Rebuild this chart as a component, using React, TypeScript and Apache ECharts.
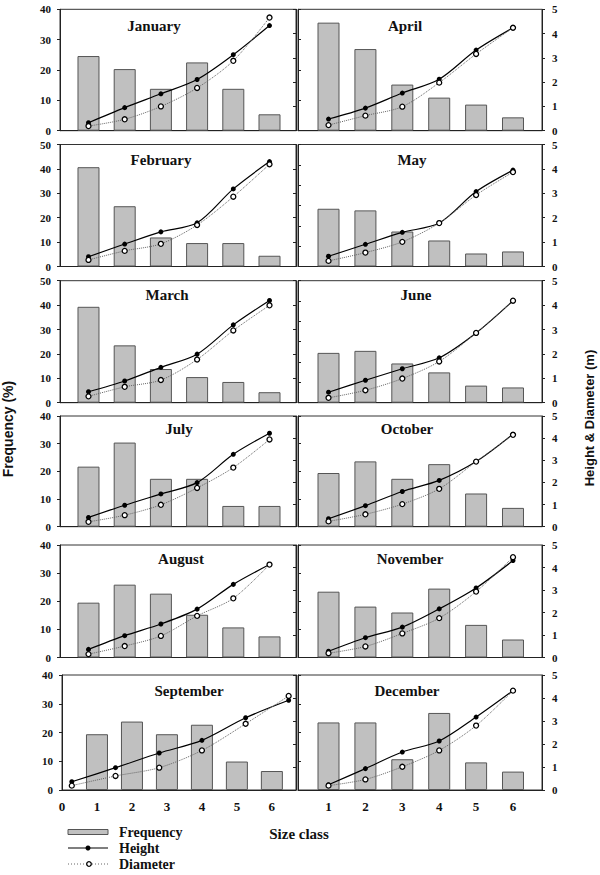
import { useEffect, useRef } from "react";
import * as echarts from "echarts";

// ---- data ----
const sizeClass = [1, 2, 3, 4, 5, 6];
const septLineX = [0.28, 1.53, 2.78, 4.0, 5.25, 6.48];
const xTicksSep = [0, 1, 2, 3, 4, 5, 6];
const xTicksDec = [1, 2, 3, 4, 5, 6];

const freqJan = [24.6, 20.3, 13.8, 22.5, 13.8, 5.4];
const heightJan = [0.33, 0.95, 1.52, 2.11, 3.13, 4.33];
const diamJan = [0.19, 0.47, 1.0, 1.76, 2.88, 4.66];

const freqFeb = [40.7, 24.7, 11.9, 9.6, 9.6, 4.4];
const heightFeb = [0.4, 0.92, 1.42, 1.79, 3.18, 4.3];
const diamFeb = [0.27, 0.64, 0.93, 1.7, 2.86, 4.19];

const freqMar = [39.3, 23.5, 13.8, 10.5, 8.5, 4.3];
const heightMar = [0.45, 0.89, 1.45, 1.99, 3.19, 4.19];
const diamMar = [0.26, 0.65, 0.93, 1.77, 2.96, 3.99];

const freqApr = [35.6, 26.9, 15.2, 10.9, 8.6, 4.4];
const heightApr = [0.48, 0.93, 1.55, 2.12, 3.32, 4.24];
const diamApr = [0.23, 0.62, 0.99, 1.98, 3.16, 4.24];

const freqMay = [28.4, 27.6, 17.2, 12.8, 6.4, 7.4];
const heightMay = [0.42, 0.91, 1.4, 1.78, 3.07, 3.95];
const diamMay = [0.23, 0.57, 1.01, 1.78, 2.93, 3.87];

const freqJun = [24.5, 25.5, 19.3, 14.9, 8.4, 7.5];
const heightJun = [0.43, 0.92, 1.39, 1.84, 2.86, 4.18];
const diamJun = [0.2, 0.51, 0.99, 1.69, 2.86, 4.18];

const freqJul = [21.7, 30.4, 17.3, 17.3, 7.5, 7.5];
const heightJul = [0.42, 0.97, 1.48, 1.99, 3.27, 4.22];
const diamJul = [0.22, 0.52, 0.99, 1.75, 2.67, 3.94];

const freqAug = [19.5, 25.9, 22.7, 15.2, 10.7, 7.5];
const heightAug = [0.36, 0.97, 1.49, 2.15, 3.25, 4.13];
const diamAug = [0.15, 0.51, 0.96, 1.85, 2.63, 4.13];

const freqSep = [19.4, 23.8, 19.4, 22.7, 9.9, 6.6];
const heightSep = [0.36, 0.97, 1.61, 2.16, 3.14, 3.9];
const diamSep = [0.19, 0.61, 0.97, 1.72, 2.88, 4.09];

const freqOct = [19.4, 23.6, 17.3, 22.6, 12.0, 6.8];
const heightOct = [0.36, 0.95, 1.59, 2.09, 2.94, 4.18];
const diamOct = [0.24, 0.56, 1.02, 1.71, 2.94, 4.15];

const freqNov = [23.4, 18.1, 16.0, 24.5, 11.6, 6.4];
const heightNov = [0.28, 0.88, 1.35, 2.16, 3.09, 4.31];
const diamNov = [0.19, 0.49, 1.07, 1.75, 2.93, 4.46];

const freqDec = [23.5, 23.5, 10.7, 26.8, 9.6, 6.4];
const heightDec = [0.23, 0.93, 1.65, 2.13, 3.17, 4.32];
const diamDec = [0.19, 0.46, 1.01, 1.72, 2.8, 4.32];

const freqAxisMax = {
  January: 40, February: 50, March: 50, July: 40, August: 40, September: 40,
  April: 40, May: 60, June: 60, October: 40, November: 40, December: 40,
};

const legendNames = ["Frequency", "Height", "Diameter"];
const xTitle = "Size class";
const yLeftTitle = "Frequency (%)";
const yRightTitle = "Height & Diameter (m)";

// ---- layout ----
const rowTop = [9.3, 144.5, 280.7, 416, 545, 675];
const rowH = [121.4, 122, 122, 110.7, 112.5, 115];
const titleY = [26, 160, 295, 429, 559, 691];
const titleXLeft = [154, 161, 167, 179, 181, 189];
const titleXRight = [405, 412, 416, 407, 410, 407];

const SERIF = "'Liberation Serif', 'Times New Roman', serif";
const SANS = "'Liberation Sans', Arial, sans-serif";

type Panel = {
  name: string;
  freq: number[];
  height: number[];
  diam: number[];
  col: number;
  row: number;
};

const panels: Panel[] = [
  { name: "January", freq: freqJan, height: heightJan, diam: diamJan, col: 0, row: 0 },
  { name: "February", freq: freqFeb, height: heightFeb, diam: diamFeb, col: 0, row: 1 },
  { name: "March", freq: freqMar, height: heightMar, diam: diamMar, col: 0, row: 2 },
  { name: "July", freq: freqJul, height: heightJul, diam: diamJul, col: 0, row: 3 },
  { name: "August", freq: freqAug, height: heightAug, diam: diamAug, col: 0, row: 4 },
  { name: "September", freq: freqSep, height: heightSep, diam: diamSep, col: 0, row: 5 },
  { name: "April", freq: freqApr, height: heightApr, diam: diamApr, col: 1, row: 0 },
  { name: "May", freq: freqMay, height: heightMay, diam: diamMay, col: 1, row: 1 },
  { name: "June", freq: freqJun, height: heightJun, diam: diamJun, col: 1, row: 2 },
  { name: "October", freq: freqOct, height: heightOct, diam: diamOct, col: 1, row: 3 },
  { name: "November", freq: freqNov, height: heightNov, diam: diamNov, col: 1, row: 4 },
  { name: "December", freq: freqDec, height: heightDec, diam: diamDec, col: 1, row: 5 },
];

const labelStyle = {
  fontFamily: SERIF,
  fontWeight: "bold" as const,
  fontSize: 11,
  color: "#111",
};

export default function App() {
  const ref = useRef<HTMLDivElement>(null);

  useEffect(() => {
    document.body.style.margin = "0";
    const chart = echarts.init(ref.current!, null, { renderer: "svg" });

    const grids: any[] = [];
    const xAxes: any[] = [];
    const yAxes: any[] = [];
    const series: any[] = [];
    const graphics: any[] = [];

    panels.forEach((p, i) => {
      const isSep = p.name === "September";
      const isBottom = p.row === 5;
      let left: number, width: number, xmin: number, xmax: number;
      if (p.col === 0) {
        if (isSep) {
          left = 62; width = 234; xmin = 0; xmax = 6.69;
        } else {
          left = 60; width = 236; xmin = 0.213; xmax = 6.732;
        }
      } else {
        left = 298; width = 244; xmin = 0.173; xmax = 6.786;
      }
      grids.push({
        left, top: rowTop[p.row], width, height: rowH[p.row],
        show: true, borderColor: "#333", borderWidth: 1, backgroundColor: "transparent",
      });
      xAxes.push({
        gridIndex: i, type: "value", min: xmin, max: xmax,
        axisLine: { show: true, onZero: false, lineStyle: { color: "#222", width: 1 } },
        axisTick: { show: false },
        splitLine: { show: false },
        axisLabel: isBottom
          ? { show: true, ...labelStyle, fontSize: 13, margin: 10, customValues: isSep ? xTicksSep : xTicksDec }
          : { show: false },
      });
      yAxes.push({
        gridIndex: i, type: "value", position: "left",
        min: 0, max: (freqAxisMax as any)[p.name], interval: 10,
        axisLine: { show: true, lineStyle: { color: "#222" } },
        axisTick: { show: true, length: 3, inside: p.col === 1, lineStyle: { color: "#222" } },
        splitLine: { show: false },
        axisLabel: p.col === 0 ? { show: true, ...labelStyle, margin: 9 } : { show: false },
      });
      yAxes.push({
        gridIndex: i, type: "value", position: "right",
        min: 0, max: 5, interval: 1,
        axisLine: { show: true, lineStyle: { color: "#222" } },
        axisTick: { show: true, length: 3, inside: p.col === 0, lineStyle: { color: "#222" } },
        splitLine: { show: false },
        axisLabel: p.col === 1 ? { show: true, ...labelStyle, margin: 10 } : { show: false },
      });
      const lx = isSep ? septLineX : sizeClass;
      series.push({
        type: "bar", name: legendNames[0], xAxisIndex: i, yAxisIndex: 2 * i,
        data: sizeClass.map((x, k) => [x, p.freq[k]]),
        barWidth: 22, silent: true,
        itemStyle: { color: "#c0c0c0", borderColor: "#555", borderWidth: 1 },
      });
      series.push({
        type: "line", name: legendNames[1], xAxisIndex: i, yAxisIndex: 2 * i + 1,
        data: lx.map((x, k) => [x, p.height[k]]),
        smooth: 0.3, symbol: "circle", symbolSize: 5, silent: true, z: 3,
        itemStyle: { color: "#000" },
        lineStyle: { color: "#000", width: 1.2 },
      });
      series.push({
        type: "line", name: legendNames[2], xAxisIndex: i, yAxisIndex: 2 * i + 1,
        data: lx.map((x, k) => [x, p.diam[k]]),
        smooth: 0.3, symbol: "circle", symbolSize: 5, silent: true, z: 4,
        itemStyle: { color: "#fff", borderColor: "#000", borderWidth: 1.3 },
        lineStyle: { color: "#666", width: 1, type: "dotted" },
      });
      graphics.push({
        type: "text",
        x: p.col === 0 ? titleXLeft[p.row] : titleXRight[p.row],
        y: titleY[p.row],
        style: {
          text: p.name, font: `bold 15px ${SERIF}`, fill: "#111",
          textAlign: "center", textVerticalAlign: "middle",
          align: "center", verticalAlign: "middle",
        },
      });
    });

    // axis titles
    graphics.push({
      type: "text", x: 8, y: 429, rotation: Math.PI / 2,
      style: {
        text: yLeftTitle, font: `bold 14px ${SANS}`, fill: "#111",
        textAlign: "center", textVerticalAlign: "middle", align: "center", verticalAlign: "middle",
      },
    });
    graphics.push({
      type: "text", x: 589, y: 418, rotation: Math.PI / 2,
      style: {
        text: yRightTitle, font: `bold 13px ${SANS}`, fill: "#111",
        textAlign: "center", textVerticalAlign: "middle", align: "center", verticalAlign: "middle",
      },
    });
    graphics.push({
      type: "text", x: 299, y: 834,
      style: {
        text: xTitle, font: `bold 15px ${SERIF}`, fill: "#111",
        textAlign: "center", textVerticalAlign: "middle", align: "center", verticalAlign: "middle",
      },
    });

    // legend
    const legY = [832, 848, 864];
    graphics.push({
      type: "rect", shape: { x: 68, y: legY[0] - 2.5, width: 40, height: 5 },
      style: { fill: "#c0c0c0", stroke: "#555", lineWidth: 1 },
    });
    graphics.push({
      type: "line", shape: { x1: 68, y1: legY[1], x2: 108, y2: legY[1] },
      style: { stroke: "#000", lineWidth: 1.2 },
    });
    graphics.push({
      type: "circle", shape: { cx: 88, cy: legY[1], r: 2.5 },
      style: { fill: "#000" },
    });
    graphics.push({
      type: "line", shape: { x1: 68, y1: legY[2], x2: 108, y2: legY[2] },
      style: { stroke: "#666", lineWidth: 1, lineDash: [1, 2] },
    });
    graphics.push({
      type: "circle", shape: { cx: 89, cy: legY[2], r: 2.3 },
      style: { fill: "#fff", stroke: "#000", lineWidth: 1.3 },
    });
    legendNames.forEach((n, k) => {
      graphics.push({
        type: "text", x: 119, y: legY[k],
        style: {
          text: n, font: `bold 14px ${SERIF}`, fill: "#111",
          textAlign: "left", textVerticalAlign: "middle", align: "left", verticalAlign: "middle",
        },
      });
    });

    chart.setOption({
      animation: false,
      backgroundColor: "#fff",
      grid: grids,
      xAxis: xAxes,
      yAxis: yAxes,
      series,
      graphic: graphics,
    });

    return () => chart.dispose();
  }, []);

  return (
    <div
      ref={ref}
      style={{ position: "absolute", left: 0, top: 0, width: 600, height: 875 }}
    />
  );
}
